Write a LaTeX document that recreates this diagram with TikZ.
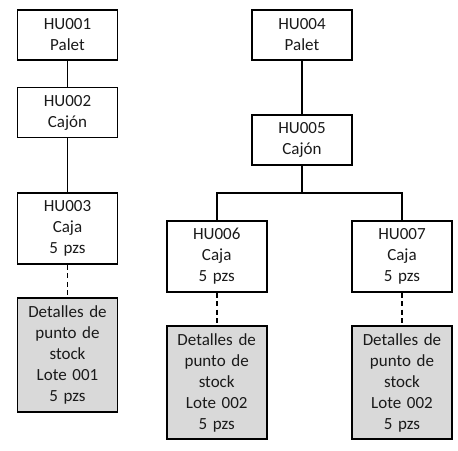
\documentclass[tikz,border=0pt]{standalone}
\usepackage{fontspec}
\setmainfont{Carlito}
\definecolor{boxgray}{HTML}{D9D9D9}
\definecolor{txt}{HTML}{1A1A1A}
\begin{document}
\begin{tikzpicture}[x=1pt,y=-1pt,
  hubox/.style={draw=black,line width=1.6pt,minimum width=100pt,text width=96pt,align=center,inner sep=2pt,
    font=\fontsize{17}{21}\selectfont,text=txt},
  detbox/.style={hubox,fill=boxgray},
  link/.style={line width=1.6pt},
  dlink/.style={line width=1.6pt,dash pattern=on 5pt off 3.5pt}]
\useasboundingbox (0,0) rectangle (458,450);
\node[hubox,minimum height=50pt] (a1) at (67.5,35) {HU001\\Palet};
\node[hubox,minimum height=50pt] (a2) at (67.5,112.5) {HU002\\Cajón};
\node[hubox,minimum height=71pt] (a3) at (67.5,228.5) {HU003\\Caja\\5 pzs};
\node[detbox,minimum height=113.5pt] (a4) at (67.5,355) {Detalles de\\punto de\\stock\\Lote 001\\5 pzs};
\node[hubox,minimum height=50pt] (b4) at (302,35) {HU004\\Palet};
\node[hubox,minimum height=50pt] (b5) at (302,140) {HU005\\Cajón};
\node[hubox,minimum height=71pt] (b6) at (216.7,256.2) {HU006\\Caja\\5 pzs};
\node[hubox,minimum height=71pt] (b7) at (402,256.2) {HU007\\Caja\\5 pzs};
\node[detbox,minimum height=113pt] (b6d) at (216.7,382.7) {Detalles de\\punto de\\stock\\Lote 002\\5 pzs};
\node[detbox,minimum height=113pt] (b7d) at (402,382.7) {Detalles de\\punto de\\stock\\Lote 002\\5 pzs};
\coordinate (bar) at (302,192.7);
\draw[link] (a1) -- (a2);
\draw[link] (a2) -- (a3);
\draw[dlink] (a3) -- (a4);
\draw[link] (b4) -- (b5);
\draw[link] (b5) -- (bar);
\draw[link] (bar) -| (b6);
\draw[link] (bar) -| (b7);
\draw[dlink] (b6) -- (b6d);
\draw[dlink] (b7) -- (b7d);
\end{tikzpicture}
\end{document}
